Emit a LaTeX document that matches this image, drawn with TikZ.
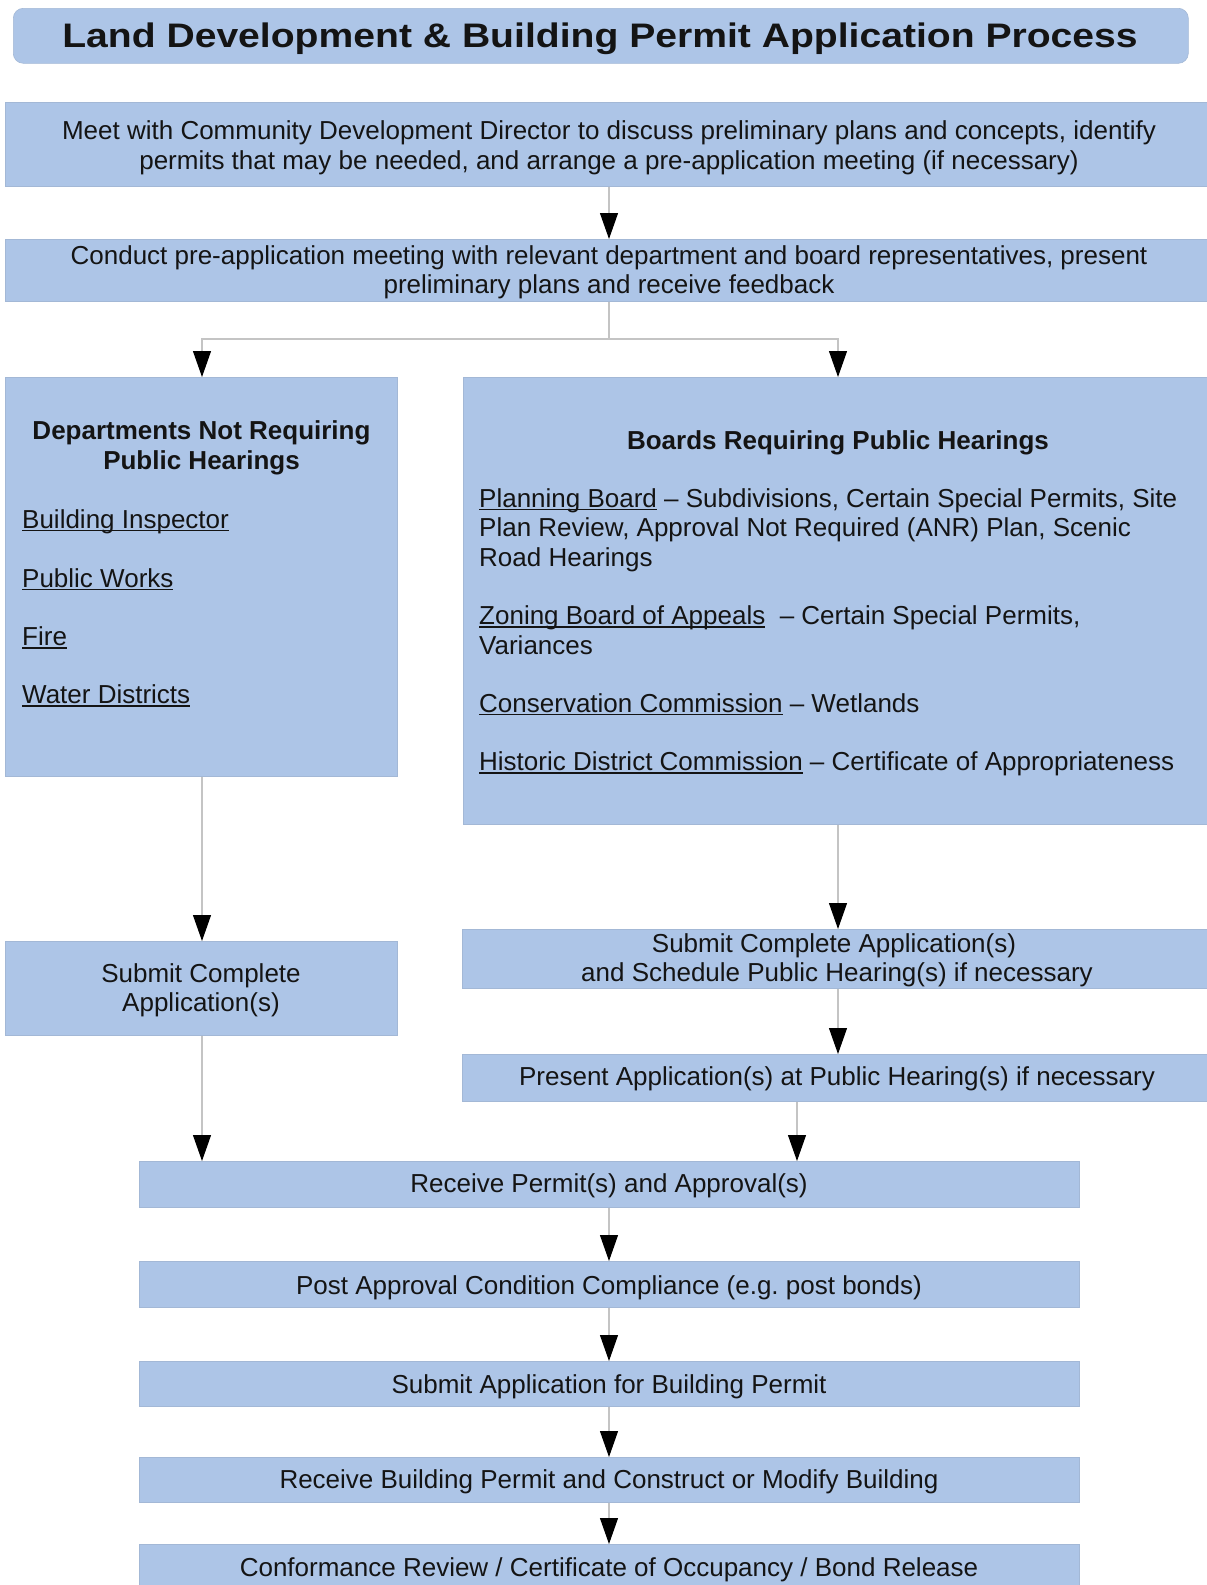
\documentclass[tikz,border=0pt]{standalone}
\usepackage{fontspec}
\setmainfont{Liberation Sans}
\usepackage{graphicx}
\usetikzlibrary{arrows.meta}
\frenchspacing
\definecolor{boxblue}{HTML}{ADC5E7}
\definecolor{boxedge}{HTML}{A3B8D6}
\definecolor{linegray}{HTML}{C4C4C4}
\definecolor{txt}{HTML}{141414}
\newcommand\myul[1]{\setbox0\hbox{#1}\rlap{\rule[-3.4pt]{\wd0}{1.8pt}}\box0{}}
\begin{document}
\begin{tikzpicture}[x=1pt,y=-1pt,
  boxst/.style={fill=boxblue, draw=boxedge, line width=0.6pt, inner sep=0pt, anchor=north west},
  bodytxt/.style={font=\fontsize{26pt}{29.5pt}\selectfont, text=txt, inner sep=0pt, anchor=base},
  headtxt/.style={bodytxt, font=\fontsize{26pt}{29.5pt}\selectfont\bfseries},
  itemtxt/.style={bodytxt, anchor=base west},
  connline/.style={draw=linegray, line width=1.1pt},
  connarrow/.style={connline, -{Triangle[width=18pt,length=26pt,color=black]}}]
\useasboundingbox (0,0) rectangle (1207,1585);
\fill[white] (0,0) rectangle (1207,1585);

% boxes
\node[boxst, rounded corners=10pt, minimum width=1175pt, minimum height=55pt] (title) at (13,8) {};
\node[boxst, minimum width=1204pt, minimum height=84pt] (b1) at (5,102) {};
\node[boxst, minimum width=1204pt, minimum height=62pt] (b2) at (5,239) {};
\node[boxst, minimum width=392pt, minimum height=399pt] (lbox) at (5,377) {};
\node[boxst, minimum width=746pt, minimum height=447pt] (rbox) at (463,377) {};
\node[boxst, minimum width=392pt, minimum height=94pt] (lsub) at (5,941) {};
\node[boxst, minimum width=747pt, minimum height=59pt] (rsub) at (462,929) {};
\node[boxst, minimum width=747pt, minimum height=47pt] (pres) at (462,1054) {};
\node[boxst, minimum width=940pt, minimum height=46pt] (recv) at (139,1161) {};
\node[boxst, minimum width=940pt, minimum height=46pt] (post) at (139,1261) {};
\node[boxst, minimum width=940pt, minimum height=45pt] (sbp) at (139,1361) {};
\node[boxst, minimum width=940pt, minimum height=45pt] (rbp) at (139,1457) {};
\node[boxst, minimum width=940pt, minimum height=50pt] (conf) at (139,1544) {};

% title
\node[anchor=base, inner sep=0pt, text=txt, font=\fontsize{34pt}{40pt}\selectfont\bfseries] (titletext) at (600,47)
  {\scalebox{1.15}[1]{Land Development \& Building Permit Application Process}};

% texts
\node[bodytxt] (b1a) at (609,139.5) {Meet with Community Development Director to discuss preliminary plans and concepts, identify};
\node[bodytxt] (b1b) at (609,169) {permits that may be needed, and arrange a pre-application meeting (if necessary)};
\node[bodytxt] (b2a) at (609,264.5) {Conduct pre-application meeting with relevant department and board representatives, present};
\node[bodytxt] (b2b) at (609,293.5) {preliminary plans and receive feedback};

\node[headtxt] (lh1) at (201.5,439) {Departments Not Requiring};
\node[headtxt] (lh2) at (201.5,469) {Public Hearings};
\node[itemtxt] (li1) at (22,528) {\myul{Building Inspector}};
\node[itemtxt] (li2) at (22,587) {\myul{Public Works}};
\node[itemtxt] (li3) at (22,645.5) {\myul{Fire}};
\node[itemtxt] (li4) at (22,703.5) {\myul{Water Districts}};

\node[headtxt] (rh) at (838,449) {Boards Requiring Public Hearings};
\node[itemtxt] (ri1) at (479,507) {\myul{Planning Board} – Subdivisions, Certain Special Permits, Site};
\node[itemtxt] (ri2) at (479,536.5) {Plan Review, Approval Not Required (ANR) Plan, Scenic};
\node[itemtxt] (ri3) at (479,566) {Road Hearings};
\node[itemtxt] (ri4) at (479,624.5) {\myul{Zoning Board of Appeals}\ \ – Certain Special Permits,};
\node[itemtxt] (ri5) at (479,654) {Variances};
\node[itemtxt] (ri6) at (479,712) {\myul{Conservation Commission} – Wetlands};
\node[itemtxt] (ri7) at (479,770.5) {\myul{Historic District Commission} – Certificate of Appropriateness};

\node[bodytxt] (ls1) at (201,982.7) {Submit Complete};
\node[bodytxt] (ls2) at (201,1011.7) {Application(s)};
\node[bodytxt] (rs1) at (834,952.7) {Submit Complete Application(s)};
\node[bodytxt] (rs2) at (837,981.7) {and Schedule Public Hearing(s) if necessary};
\node[bodytxt] (pr) at (837,1085) {Present Application(s) at Public Hearing(s) if necessary};
\node[bodytxt] (rv) at (609,1192.5) {Receive Permit(s) and Approval(s)};
\node[bodytxt] (po) at (609,1294) {Post Approval Condition Compliance (e.g.\ post bonds)};
\node[bodytxt] (sb) at (609,1393) {Submit Application for Building Permit};
\node[bodytxt] (rb) at (609,1488.5) {Receive Building Permit and Construct or Modify Building};
\node[bodytxt] (cf) at (609,1576.5) {Conformance Review / Certificate of Occupancy / Bond Release};

% connectors
\coordinate (xm) at (609,0);
\coordinate (xl) at (202,0);
\coordinate (xr) at (838,0);
\coordinate (xp) at (797,0);
\coordinate (split) at (609,339);
\draw[connarrow] (b1.south -| xm) -- (b2.north -| xm);
\draw[connline] (b2.south -| xm) -- (split);
\draw[connarrow] (split) -| (lbox.north -| xl);
\draw[connarrow] (split) -| (rbox.north -| xr);
\draw[connarrow] (lbox.south -| xl) -- (lsub.north -| xl);
\draw[connarrow] (rbox.south -| xr) -- (rsub.north -| xr);
\draw[connarrow] (rsub.south -| xr) -- (pres.north -| xr);
\draw[connarrow] (pres.south -| xp) -- (recv.north -| xp);
\draw[connarrow] (lsub.south -| xl) -- (recv.north -| xl);
\draw[connarrow] (recv.south -| xm) -- (post.north -| xm);
\draw[connarrow] (post.south -| xm) -- (sbp.north -| xm);
\draw[connarrow] (sbp.south -| xm) -- (rbp.north -| xm);
\draw[connarrow] (rbp.south -| xm) -- (conf.north -| xm);
\end{tikzpicture}
\end{document}
